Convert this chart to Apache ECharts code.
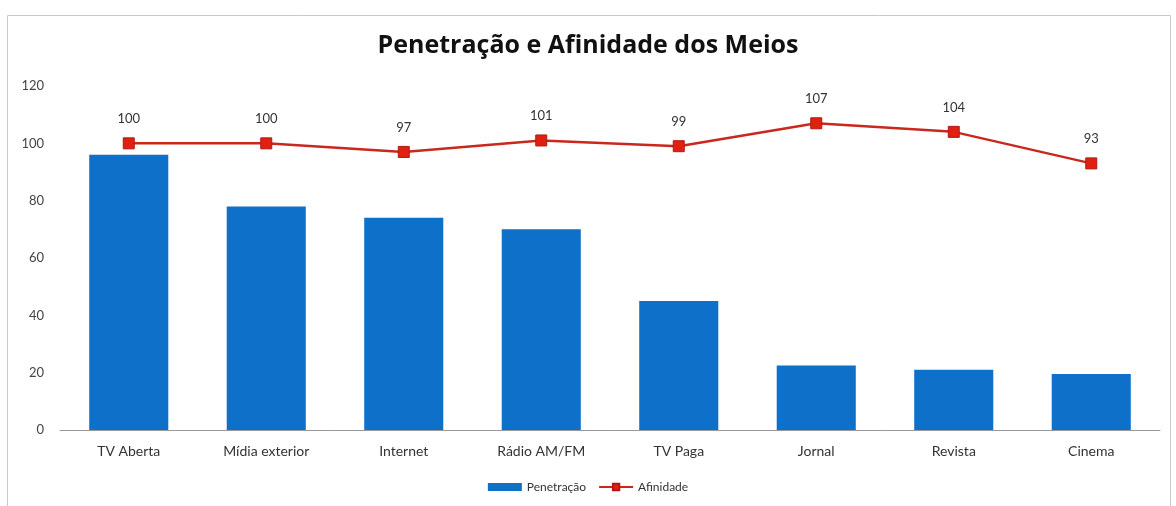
<!DOCTYPE html>
<html>
<head>
<meta charset="utf-8">
<script src="https://cdn.jsdelivr.net/npm/echarts@6/dist/echarts.min.js"></script>
<style>html,body{margin:0;padding:0;background:#fff}#c{width:1176px;height:506px}</style>
</head>
<body>
<div id="c"></div>
<script>
const categories = ['TV Aberta', 'Mídia exterior', 'Internet', 'Rádio AM/FM', 'TV Paga', 'Jornal', 'Revista', 'Cinema'];
const penetracao = [96, 78, 74, 70, 45, 22.5, 21, 19.5];
const afinidade = [100, 100, 97, 101, 99, 107, 104, 93];

const chart = echarts.init(document.getElementById('c'));
chart.setOption({
  backgroundColor: '#fff',
  animation: false,
  title: {
    text: 'Penetração e Afinidade dos Meios',
    left: 'center', top: 28,
    textStyle: { fontFamily: 'Open Sans', fontWeight: 'bold', fontSize: 25, color: '#111' }
  },
  graphic: [{
    type: 'rect', shape: { x: 7.5, y: 15.5, width: 1163, height: 520 },
    style: { fill: 'none', stroke: '#c8c8c8', lineWidth: 1 }, silent: true, z: -1
  }],
  grid: { left: 60, right: 16, top: 86, bottom: 76 },
  legend: {
    bottom: 8, left: 'center', itemGap: 12, itemWidth: 34, itemHeight: 8,
    textStyle: { fontFamily: 'Lato', fontSize: 12, color: '#333' },
    data: [
      { name: 'Penetração', icon: 'rect' },
      { name: 'Afinidade' }
    ]
  },
  xAxis: {
    type: 'category', data: categories,
    axisLine: { lineStyle: { color: '#999', width: 1 } },
    axisTick: { show: false },
    axisLabel: { fontFamily: 'Lato', fontSize: 14, color: '#333', margin: 14 }
  },
  yAxis: {
    type: 'value', min: 0, max: 120, interval: 20,
    splitLine: { show: false },
    axisLine: { show: false }, axisTick: { show: false },
    axisLabel: { fontFamily: 'Lato', fontSize: 13, color: '#444', margin: 16 }
  },
  series: [
    {
      name: 'Penetração', type: 'bar', data: penetracao,
      barWidth: '57.5%',
      itemStyle: { color: '#0E70C8' }
    },
    {
      name: 'Afinidade', type: 'line', data: afinidade,
      symbol: 'rect', symbolSize: 11,
      lineStyle: { color: '#C8281E', width: 2.5 },
      itemStyle: { color: '#E02010', borderColor: '#B01A10', borderWidth: 1 },
      label: { show: true, position: 'top', distance: 12, fontFamily: 'Lato', fontSize: 13, color: '#333' }
    }
  ]
});
</script>
</body>
</html>
